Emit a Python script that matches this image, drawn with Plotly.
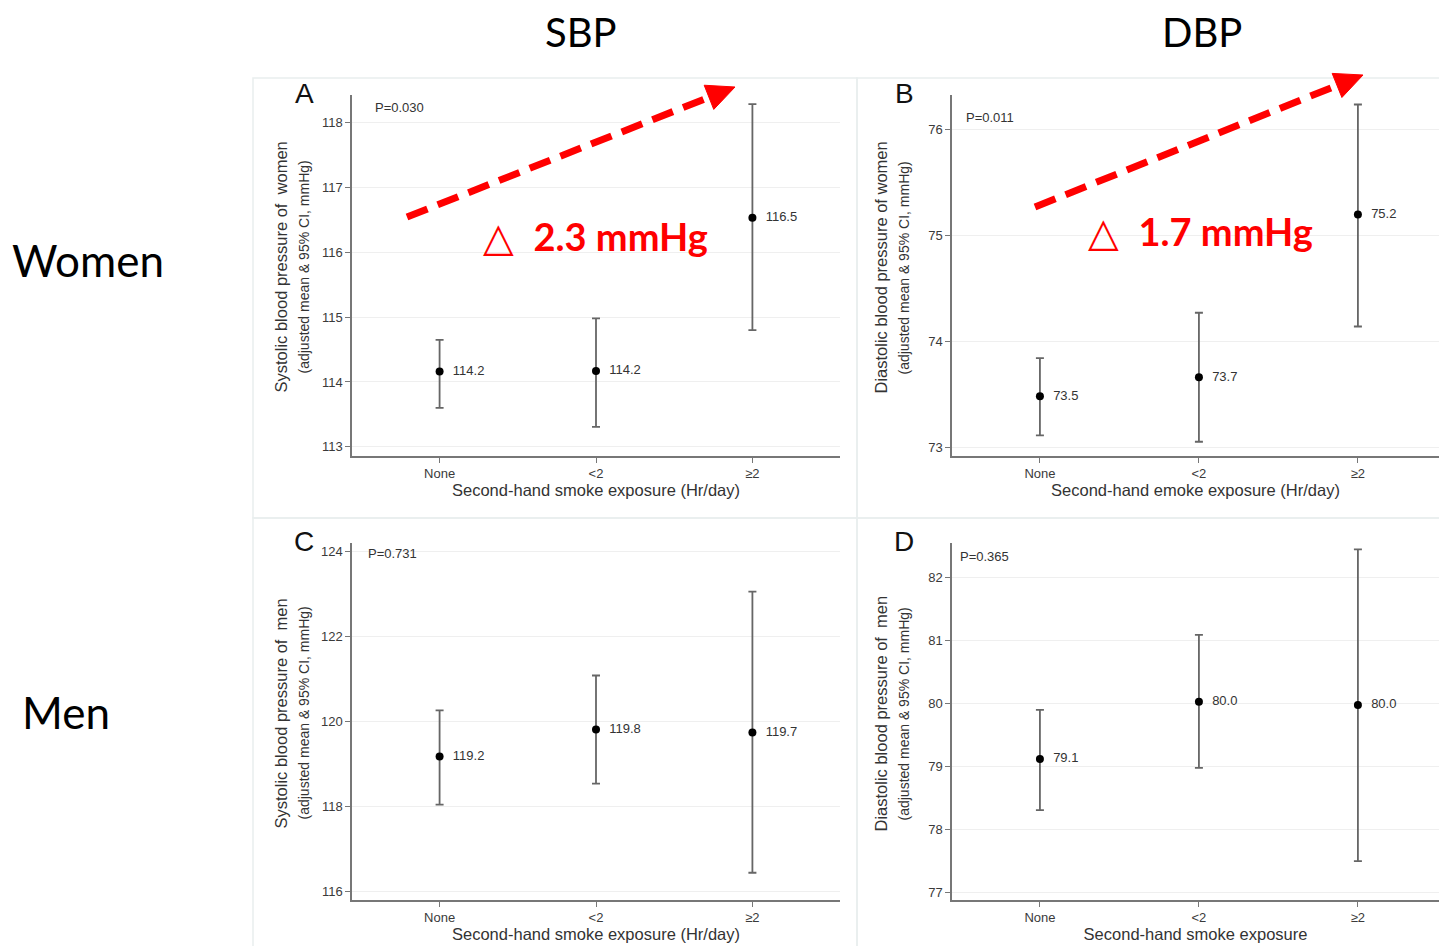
import math
import plotly.graph_objects as go

W, H = 1439, 946

# ---------------- data ----------------
categories = ["None", "<2", "≥2"]
cat_pos = [0, 1, 2]

sbp_women_mean = [114.16, 114.17, 116.53]
sbp_women_lo = [113.60, 113.31, 114.80]
sbp_women_hi = [114.65, 114.98, 118.28]

dbp_women_mean = [73.48, 73.66, 75.20]
dbp_women_lo = [73.11, 73.05, 74.14]
dbp_women_hi = [73.84, 74.27, 76.24]

sbp_men_mean = [119.18, 119.81, 119.74]
sbp_men_lo = [118.05, 118.54, 116.45]
sbp_men_hi = [120.26, 121.08, 123.05]

dbp_men_mean = [79.11, 80.02, 79.97]
dbp_men_lo = [78.30, 78.97, 77.49]
dbp_men_hi = [79.89, 81.08, 82.44]

p_values = ["P=0.030", "P=0.011", "P=0.731", "P=0.365"]
panel_letters = ["A", "B", "C", "D"]
y_titles = ["Systolic blood pressure of  women", "Diastolic blood pressure of women",
            "Systolic blood pressure of  men", "Diastolic blood pressure of  men"]
y_sub = "(adjusted mean & 95% CI, mmHg)"
x_titles = ["Second-hand smoke exposure (Hr/day)", "Second-hand emoke exposure (Hr/day)",
            "Second-hand smoke exposure (Hr/day)", "Second-hand smoke exposure"]
y_ticks = [[113, 114, 115, 116, 117, 118], [73, 74, 75, 76],
           [116, 118, 120, 122, 124], [77, 78, 79, 80, 81, 82]]
deltas = ["2.3 mmHg", "1.7 mmHg"]


def px(x):
    return x / W


def py(y):
    return 1 - y / H


panels = [
    dict(mean=sbp_women_mean, lo=sbp_women_lo, hi=sbp_women_hi,
         xd=(352, 840), yd=(95, 456), xr=[-0.56, 2.56], yr=[112.86, 118.42]),
    dict(mean=dbp_women_mean, lo=dbp_women_lo, hi=dbp_women_hi,
         xd=(952, 1439), yd=(95, 456), xr=[-0.553, 2.51], yr=[72.915, 76.33]),
    dict(mean=sbp_men_mean, lo=sbp_men_lo, hi=sbp_men_hi,
         xd=(352, 840), yd=(543, 900), xr=[-0.56, 2.56], yr=[115.81, 124.19]),
    dict(mean=dbp_men_mean, lo=dbp_men_lo, hi=dbp_men_hi,
         xd=(952, 1439), yd=(543, 900), xr=[-0.553, 2.51], yr=[76.873, 82.54]),
]

fig = go.Figure()
layout = dict(
    width=W, height=H, margin=dict(l=0, r=0, t=0, b=0),
    paper_bgcolor="white", plot_bgcolor="white", showlegend=False,
    font=dict(family="Liberation Sans, Arial, sans-serif", color="#333"),
)
annotations = []
shapes = []

axis_font = dict(family="Liberation Sans, Arial, sans-serif", size=13, color="#3a3a3a")


def note(x, y, text, size, color="#333", family=None, angle=0, xanchor="center"):
    f = dict(size=size, color=color)
    if family:
        f["family"] = family
    return dict(x=px(x), y=py(y), xref="paper", yref="paper", text=text,
                textangle=angle, showarrow=False, xanchor=xanchor, yanchor="middle",
                font=f)


for i, p in enumerate(panels):
    n = "" if i == 0 else str(i + 1)
    xa, ya = "x" + n, "y" + n
    err_plus = [h - m for h, m in zip(p["hi"], p["mean"])]
    err_minus = [m - l for m, l in zip(p["mean"], p["lo"])]
    labels = ["  " + f"{m:.1f}" for m in p["mean"]]
    fig.add_trace(go.Scatter(
        x=cat_pos, y=p["mean"], mode="markers+text", text=labels,
        textposition="middle right", textfont=dict(size=13, color="#333"),
        marker=dict(color="black", size=8),
        error_y=dict(type="data", symmetric=False, array=err_plus, arrayminus=err_minus,
                     color="#666", thickness=1.8, width=4),
        xaxis=xa, yaxis=ya, cliponaxis=False,
    ))
    layout["xaxis" + n] = dict(
        domain=[px(p["xd"][0]), px(p["xd"][1])], range=p["xr"], anchor=ya,
        tickvals=cat_pos, ticktext=categories, tickfont=axis_font,
        showline=True, linecolor="#777", linewidth=1.5, ticks="outside", ticklen=5,
        tickcolor="#777", showgrid=False, zeroline=False,
        title=dict(text=x_titles[i], font=dict(size=16.5, color="#333"), standoff=0),
    )
    layout["yaxis" + n] = dict(
        domain=[py(p["yd"][1]), py(p["yd"][0])], range=p["yr"], anchor=xa,
        tickvals=y_ticks[i], tickfont=axis_font,
        showline=True, linecolor="#777", linewidth=1.5, ticks="outside", ticklen=5,
        tickcolor="#777", showgrid=True, gridcolor="#efefef", gridwidth=1.2,
        zeroline=False,
    )
    x0 = p["xd"][0]
    ytop = p["yd"][0]
    ymid = (p["yd"][0] + p["yd"][1]) / 2
    # y-axis titles (two lines)
    annotations.append(note(x0 - 72, ymid - 8, y_titles[i], 16.5, angle=-90))
    annotations.append(note(x0 - 49, ymid - 8, y_sub, 14, angle=-90))
    # panel letters
    annotations.append(note(x0 - 48, ytop - 2, panel_letters[i], 28, color="#111"))
    # p-values
    pv_y = [108, 118, 553, 556][i]
    pv_x = [373, 964, 366, 958][i]
    annotations.append(note(pv_x, pv_y, p_values[i], 13, xanchor="left"))

# panel boxes
for (bx0, by0, bx1, by1) in [(253, 78, 857, 518), (857, 78, 1445, 518),
                             (253, 518, 857, 952), (857, 518, 1445, 952)]:
    shapes.append(dict(type="rect", xref="paper", yref="paper",
                       x0=px(bx0), x1=px(bx1), y0=py(by1), y1=py(by0),
                       line=dict(color="#e9eeee", width=1.5), layer="below"))

# column / row headings and delta labels
hfont = "Lato, Carlito, Calibri, sans-serif"
annotations += [
    note(581, 32, "SBP", 40, color="black", family=hfont),
    note(1202, 32, "DBP", 40, color="black", family=hfont),
    note(88, 260, "Women", 44, color="black", family=hfont),
    note(66, 712, "Men", 44, color="black", family=hfont),
]
for (cx, cy, t) in [(595, 236, deltas[0]), (1200, 231, deltas[1])]:
    annotations.append(note(cx, cy, "<span style='font-size:40px'>△</span>  <b>" + t + "</b>",
                            38, color="#ff0000", family=hfont))

# red dashed trend arrows
for (sx, sy, tx, ty) in [(407, 217, 735, 87), (1035, 207, 1363, 75)]:
    dx, dy = tx - sx, ty - sy
    L = math.hypot(dx, dy)
    ux, uy = dx / L, dy / L
    nx, ny = -uy, ux
    hl, hw = 28, 13
    bx, by = tx - hl * ux, ty - hl * uy
    shapes.append(dict(type="line", xref="paper", yref="paper",
                       x0=px(sx), y0=py(sy), x1=px(bx + 2 * ux), y1=py(by + 2 * uy),
                       line=dict(color="#ff0000", width=7, dash="22px,11px")))
    c1 = (bx + hw * nx, by + hw * ny)
    c2 = (bx - hw * nx, by - hw * ny)
    path = (f"M {px(tx)} {py(ty)} L {px(c1[0])} {py(c1[1])} "
            f"L {px(c2[0])} {py(c2[1])} Z")
    shapes.append(dict(type="path", xref="paper", yref="paper", path=path,
                       fillcolor="#ff0000", line=dict(color="#ff0000", width=1)))

layout["annotations"] = annotations
layout["shapes"] = shapes
fig.update_layout(**layout)
fig.write_html("out.html")
